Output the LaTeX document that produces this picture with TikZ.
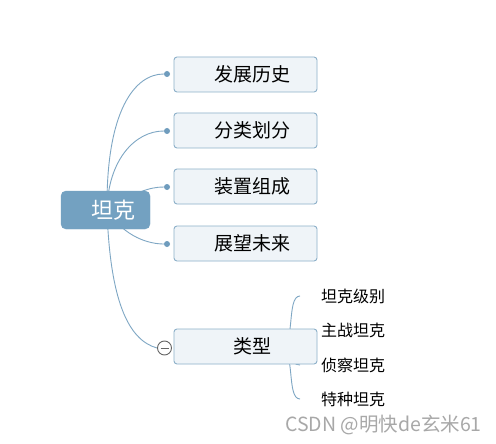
\documentclass[tikz,border=0pt]{standalone}
\usepackage{fontspec}
\setmainfont{Noto Sans CJK SC}
\definecolor{rootfill}{HTML}{73A1C1}
\definecolor{boxfill}{HTML}{EFF4F8}
\definecolor{boxline}{HTML}{8DB0C9}
\definecolor{linkc}{HTML}{7EA7C4}
\definecolor{dotc}{HTML}{6F9CBD}
\definecolor{wm}{HTML}{A8A8A8}
\begin{document}
\begin{tikzpicture}[x=1pt,y=-1pt,
  rootbox/.style={draw=rootfill,fill=rootfill,rounded corners=5pt,minimum width=89pt,minimum height=38pt,inner sep=0pt,text=white,font=\fontsize{22}{22}\selectfont},
  childbox/.style={draw=boxline,fill=boxfill,line width=0.9pt,rounded corners=3pt,minimum width=143pt,minimum height=35pt,inner sep=0pt,font=\fontsize{19}{19}\selectfont},
  leaf/.style={anchor=west,inner sep=0pt,font=\fontsize{16}{16}\selectfont},
  link/.style={draw=linkc,line width=0.9pt},
  dot/.style={circle,fill=dotc,inner sep=0pt,minimum size=6pt}]
\useasboundingbox (0,0) rectangle (496,444);
\fill[white] (0,0) rectangle (496,444);
% nodes (positions)
\coordinate (rc) at (107,210);
\node[dot] (d1) at (167,74) {};
\node[dot] (d2) at (167,131) {};
\node[dot] (d3) at (167,187) {};
\node[dot] (d4) at (167,244) {};
\coordinate (c5) at (157,348);
\coordinate (tx) at (280,348);
\coordinate (l1) at (300,296);
\coordinate (l2) at (300,330);
\coordinate (l3) at (300,365);
\coordinate (l4) at (300,399);
% links
\draw[link] (rc) .. controls (106,110) and (135,74) .. (d1);
\draw[link] (rc) .. controls (108,160) and (135,131) .. (d2);
\draw[link] (rc) .. controls (135,192) and (150,187) .. (d3);
\draw[link] (rc) .. controls (125,238) and (150,244) .. (d4);
\draw[link] (rc) .. controls (110,300) and (128,340) .. (c5);
\draw[link] (tx) .. controls (296,348) and (286,296) .. (l1);
\draw[link] (tx) .. controls (294,348) and (288,330) .. (l2);
\draw[link] (tx) .. controls (294,348) and (288,365) .. (l3);
\draw[link] (tx) .. controls (296,348) and (286,399) .. (l4);
% boxes
\node[rootbox] (root) at (105.5,210) {\hspace*{16pt}坦克};
\node[childbox] (a1) at (245.5,74.5) {\hspace*{14pt}发展历史};
\node[childbox] (a2) at (245.5,130.5) {\hspace*{14pt}分类划分};
\node[childbox] (a3) at (245.5,186.5) {\hspace*{14pt}装置组成};
\node[childbox] (a4) at (245.5,243.5) {\hspace*{14pt}展望未来};
\node[childbox] (a5) at (245.5,346.5) {\hspace*{14pt}类型};
\node[circle,draw=gray!80!black,fill=white,line width=0.9pt,minimum size=14pt,inner sep=0pt] (col) at (164.5,348) {};
\draw[gray!80!black,line width=0.9pt] ([xshift=-4pt]col.center) -- ([xshift=4pt]col.center);
% leaves
\node[leaf] (b1) at (321,296) {坦克级别};
\node[leaf] (b2) at (321,330) {主战坦克};
\node[leaf] (b3) at (321,365) {侦察坦克};
\node[leaf] (b4) at (321,399) {特种坦克};
\node[anchor=east,inner sep=0pt,text=wm,font=\fontsize{19.5}{19.5}\selectfont] (wmk) at (482,425) {CSDN @明快de玄米61};
\end{tikzpicture}
\end{document}
